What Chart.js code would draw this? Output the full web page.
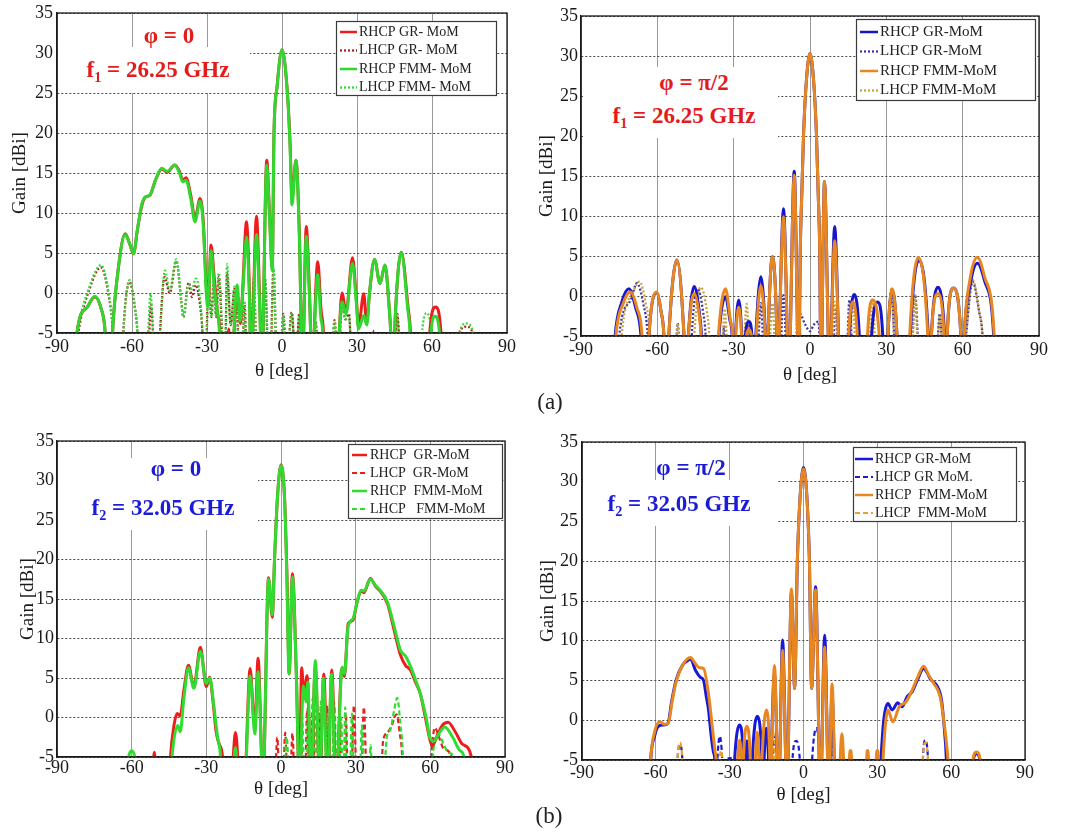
<!DOCTYPE html>
<html>
<head>
<meta charset="utf-8">
<script src="https://cdn.jsdelivr.net/npm/chart.js@4.4.1/dist/chart.umd.min.js"></script>
<style>
  body { margin: 0; background: #fff; width: 1074px; height: 833px; overflow: hidden; position: relative; font-family: "Liberation Serif", serif; }
  canvas { position: absolute; }
  .blank { position: absolute; background: #fff; }
  .note { position: absolute; transform: translate(-50%, -50%); white-space: nowrap; line-height: 1; font-weight: bold; font-size: 23px; }
  .note sub { font-size: 0.62em; }
  .red { color: #e31b1b; }
  .blue { color: #1c1cd8; }
  .tag { position: absolute; transform: translate(-50%, -50%); font-size: 23px; color: #222; }
</style>
</head>
<body>
<canvas id="ca" width="530" height="395" style="left:0;top:0"></canvas>
<canvas id="cb" width="544" height="395" style="left:530px;top:0"></canvas>
<canvas id="cc" width="530" height="395" style="left:0;top:420px"></canvas>
<canvas id="cd" width="544" height="395" style="left:530px;top:420px"></canvas>

<div class="blank" style="left:58px;top:47px;width:192px;height:46px"></div>
<div class="blank" style="left:583px;top:67px;width:195px;height:71px"></div>
<div class="blank" style="left:58px;top:458px;width:200px;height:72px"></div>
<div class="blank" style="left:583px;top:480px;width:194px;height:46px"></div>

<div class="note red" style="left:169px;top:35px">&phi; = 0</div>
<div class="note red" style="left:158px;top:71px">f<sub>1</sub> = 26.25 GHz</div>
<div class="note red" style="left:694px;top:82px">&phi; = &pi;/2</div>
<div class="note red" style="left:684px;top:117px">f<sub>1</sub> = 26.25 GHz</div>
<div class="note blue" style="left:176px;top:468px">&phi; = 0</div>
<div class="note blue" style="left:163px;top:509px">f<sub>2</sub> = 32.05 GHz</div>
<div class="note blue" style="left:691px;top:467px">&phi; = &pi;/2</div>
<div class="note blue" style="left:679px;top:505px">f<sub>2</sub> = 32.05 GHz</div>

<div class="tag" style="left:550px;top:402px">(a)</div>
<div class="tag" style="left:549px;top:816px">(b)</div>

<script>
// tick values shared by all four panels
const thetaTicks = [-90, -60, -30, 0, 30, 60, 90];
const gainTicks = [-5, 0, 5, 10, 15, 20, 25, 30, 35];

// [theta deg, gain dBi]; -9 means the curve has dropped below the plotted range
// (a) phi = 0, f1
const aRhcpGr = [[-90,-9],[-82.6,-9],[-82,-5],[-78,-1.8],[-74.9,-0.5],[-72.5,-1.8],[-70.7,-5],[-70.1,-9],
  [-68.3,-9],[-67.8,-5],[-65.5,3],[-62.7,7.4],[-61,6.2],[-59.4,4.9],[-57.8,8],[-56,11],[-54.6,12],[-52.9,12.2],[-50.5,14.2],[-48.1,15.5],[-45.9,15.1],[-42.9,16],[-41,15.2],[-39.7,14.1],[-38.4,14.4],[-36.5,12.2],[-34.8,9.3],[-32.8,11.8],[-31.5,9],[-30.3,1],[-29.5,-1.3],[-28.4,6],[-27,1.5],[-25.8,-2.5],[-24.8,-5],[-24.4,-9],
  [-22,-9],[-21.3,-4.5],[-20.6,-9],
  [-19.6,-9],[-19.2,-5],[-17.7,-0.5],[-16.6,-3.8],[-15.8,0],[-14.2,8.9],[-13,0],[-12.4,-9],
  [-10.2,9.6],[-9,0],[-8.1,-9],
  [-6.1,16.6],[-5,10],[-3.9,3.2],[-3.2,20],[-2,25.7],[0,30.4],[2,25.7],[3.2,19],[4,12],[5.6,16.6],[6.9,8],[8.2,-9],
  [9.7,8.3],[11,0],[12,-9],
  [14.3,3.9],[15.6,-2],[16.6,-5],[17,-9],
  [22.4,-9],[22.9,-5],[24,0],[25.6,-2.4],[28.2,4.4],[29.8,-1],[30.6,-4.2],[32.7,-0.1],[33.9,-3.8],[35,0],[37,4.2],[39.2,1.2],[41.2,3.5],[42.8,-1.5],[43.5,-5],[43.9,-9],
  [44.6,-9],[45,-5],[47.7,5.1],[50.5,-2],[51.4,-5],[51.8,-9],
  [58.6,-9],[59.1,-5],[61.4,-1.75],[63.6,-5],[64.1,-9],[90,-9]];
const aLhcpGr = [[-90,-9],[-83,-9],[-81.5,-5],[-77,0.5],[-72.4,3.2],[-69.5,0],[-67.6,-5],[-67,-9],
  [-64,-9],[-63.5,-5],[-61,1.4],[-59,-1.5],[-57.8,-5],[-57.2,-9],
  [-53.6,-9],[-53.1,-5],[-52.4,-1.5],[-51.6,-5],[-51.1,-9],
  [-49.4,-9],[-48.8,-5],[-47,2],[-44.9,0],[-42.3,4],[-40.3,-1],[-39.5,-3],[-37.3,1.3],[-36,-0.5],[-34.5,1],[-33,-1],[-31.8,-5],[-31.3,-9],
  [-30.5,-9],[-29.5,1.5],[-28.2,-3],[-27.3,1.5],[-26.3,-3],[-25.3,2],[-24,-5],[-23.6,-9],
  [-22.8,-9],[-22,2.5],[-20.5,-4],[-19,0.5],[-17.6,-5],[-17.2,-9],
  [-16,-9],[-15,-1.5],[-14,-9],
  [-12.4,-9],[-11.3,1.5],[-10,-9],
  [-8,-9],[-6.7,1.5],[-5.4,-9],
  [-4.7,-9],[-3.4,3],[-2,-9],
  [-0.8,-9],[0.5,-2.6],[1.8,-9],[3.9,-2.4],[5.5,-9],[6.9,-2.6],[8.3,-9],
  [12.5,-9],[13.5,-3.6],[14.5,-9],
  [19.8,-9],[21,-3.4],[22.4,-9],[24,-1.3],[25.3,-3.3],[26.8,-2.6],[28,-9],
  [35.5,-9],[36.4,-4.7],[37.3,-9],
  [44.7,-9],[46.1,-2.6],[47.6,-9],
  [70,-9],[71,-5],[73.7,-4.2],[76.3,-5],[77,-9],[90,-9]];
const aRhcpFmm = [[-90,-9],[-82.6,-9],[-82,-5],[-78,-1.8],[-74.9,-0.4],[-72.5,-1.8],[-70.7,-5],[-70.1,-9],
  [-68.3,-9],[-67.8,-5],[-65.5,3],[-62.7,7.3],[-61,6.2],[-59.4,4.9],[-57.8,8],[-56,11.2],[-54.6,12],[-52.9,12.2],[-50.5,14.2],[-48.1,15.6],[-45.9,15.2],[-42.9,16],[-41,15],[-39.7,13.9],[-38.4,14.1],[-36.5,11.8],[-34.8,8.9],[-32.8,11.5],[-31.5,8.5],[-30.3,0],[-29.7,-1.8],[-28.4,5.3],[-27,0.5],[-26,-2],[-25,-5],[-24.6,-9],
  [-19.6,-9],[-19.2,-5],[-17.9,1],[-16.8,-3.5],[-15.8,-0.5],[-14.2,7],[-13,-1],[-12.4,-9],
  [-10.2,7.3],[-9,-1],[-8.1,-9],
  [-6.1,16],[-5,9.5],[-3.9,2.8],[-3.2,20],[-2,25.7],[0,30.4],[2,25.7],[3.2,18.5],[4,11],[5.6,16.6],[6.9,7.5],[8.2,-9],
  [9.7,7.1],[11,-0.5],[12,-9],
  [14.3,2.3],[15.5,-3],[16.3,-5],[16.7,-9],
  [22.4,-9],[22.9,-5],[24,-1.1],[25.6,-2.6],[28.2,3.7],[29.8,-1.5],[30.6,-4.5],[32.7,-2.8],[33.9,-4],[35,0],[37,4.2],[39.2,1.2],[41.2,3.5],[42.8,-1.5],[43.5,-5],[43.9,-9],
  [44.6,-9],[45,-5],[47.7,5.1],[50.3,-2],[51.2,-5],[51.6,-9],
  [59,-9],[59.6,-5],[61.2,-2.9],[63,-5],[63.5,-9],[90,-9]];
const aLhcpFmm = [[-90,-9],[-83.2,-9],[-81.8,-5],[-77,0.8],[-72.4,3.5],[-69.5,0.3],[-67.6,-5],[-67,-9],
  [-64,-9],[-63.5,-5],[-61,1.6],[-59,-1.5],[-57.8,-5],[-57.2,-9],
  [-54,-9],[-53.5,-5],[-52.6,-0.1],[-51.6,-5],[-51.1,-9],
  [-49.4,-9],[-48.8,-5],[-46.8,2.8],[-44.9,0.3],[-42.3,4.2],[-40.3,-1],[-39.5,-3],[-37.3,1],[-36,0.5],[-34.5,1.8],[-33,0],[-31.8,-5],[-31.3,-9],
  [-30.5,-9],[-29.5,1],[-28.2,-3],[-27.3,2],[-26.3,-3],[-25.3,2.5],[-24,-5],[-23.6,-9],
  [-22.8,-9],[-22,3.6],[-20.5,-4],[-19,0.8],[-17.6,-5],[-17.2,-9],
  [-16,-9],[-15,-1],[-14,-9],
  [-12.4,-9],[-11.3,1.8],[-10,-9],
  [-8,-9],[-6.7,1.8],[-5.4,-9],
  [-4.7,-9],[-3.4,3.2],[-2,-9],
  [-0.8,-9],[0.6,-2.8],[1.8,-9],[3.9,-2.6],[5.5,-9],[7,-2.8],[8.3,-9],
  [12.6,-9],[13.5,-3.8],[14.5,-9],
  [19.8,-9],[21,-3.6],[22.4,-9],[24,-1.6],[25.3,-3.3],[26.8,-3],[28,-9],
  [44.7,-9],[46.1,-2.8],[47.6,-9],
  [55.3,-9],[56,-5],[57.8,-2.5],[59.8,-5],[60.5,-9],
  [70,-9],[71,-5],[73.7,-3.8],[76.5,-5],[77.2,-9],[90,-9]];

// (a) phi = pi/2, f1
const bRhcpGr = [[-90,-9],[-77.3,-9],[-76.6,-5],[-74,-0.8],[-71.2,0.9],[-68.5,-1.5],[-66.4,-5],[-65.8,-9],
  [-63.8,-9],[-63.3,-5],[-60.3,0.4],[-58.5,-2],[-57.4,-5],[-57,-9],
  [-56,-9],[-55.5,-5],[-52.3,4.5],[-49.5,-5],[-49,-9],
  [-48.3,-9],[-47.8,-5],[-45.5,1.2],[-43.5,-2],[-42.6,-5],[-42,-9],
  [-36.4,-9],[-35.8,-5],[-33.2,-0.1],[-31.5,-3],[-30.6,-5],[-30.2,-9],
  [-29.7,-9],[-29.3,-5],[-28,-0.5],[-26.8,-5],[-26.4,-9],
  [-25.8,-9],[-25.4,-5],[-24,-3.2],[-22.8,-5],[-22.4,-9],
  [-21.8,-9],[-21.3,-5],[-19.3,2.4],[-17.5,-5],[-17.1,-9],
  [-16.8,-9],[-16.5,-5],[-14.8,4.9],[-13,-5],[-12.8,-9],
  [-10.4,10.9],[-8.3,-9],
  [-6.2,15.6],[-4.4,-9],
  [-3.8,6],[-3.2,13],[-2.5,20.5],[-1.4,27],[0,30.3],[1.4,27],[2.5,20.5],[3.2,13],[3.8,6],[4.3,-9],
  [5.7,14.3],[7.7,-9],
  [9.7,8.7],[11.9,-9],
  [15,-9],[15.4,-5],[17.4,0.2],[19.4,-5],[19.8,-9],
  [23.7,-9],[24.2,-5],[26.5,-0.75],[28.6,-5],[29,-9],
  [30.2,-9],[30.6,-5],[32.3,0.7],[34.2,-5],[34.6,-9],
  [39,-9],[39.4,-5],[42.8,4.5],[46.5,-5],[46.9,-9],
  [47.3,-9],[47.7,-5],[50.3,1.1],[52.9,-5],[53.3,-9],
  [53.6,-9],[53.9,-5],[56.4,1],[59.3,-5],[59.7,-9],
  [60.2,-9],[60.6,-5],[63,1.5],[65.8,4.1],[68.5,2],[72.2,-5],[72.6,-9],[90,-9]];
const bLhcpGr = [[-90,-9],[-75.6,-9],[-75,-5],[-70.5,-0.5],[-68,1.6],[-65.5,-1],[-63.8,-5],[-63.3,-9],
  [-52.8,-9],[-52.4,-5],[-52,-3.4],[-51.6,-5],[-51.2,-9],
  [-47,-9],[-46.5,-5],[-44.2,0.9],[-42,-2],[-41,-5],[-40.5,-9],
  [-34.6,-9],[-33.8,-3.8],[-33,-9],
  [-25,-9],[-24,-3.5],[-23,-9],
  [-21,-9],[-19.3,-0.9],[-17.8,-9],
  [-12,-9],[-10.4,0.1],[-8.9,-9],
  [-6,-9],[-4,-2.2],[-2,-3.5],[0,-4.4],[1.5,-3.6],[3.3,-3.2],[4.4,-9],
  [8.5,-9],[10,-1.5],[11.5,-9],
  [14.2,-9],[15.5,-0.5],[17,-9],
  [29.6,-9],[31.9,0.7],[34,-9],
  [39.5,-9],[41.3,0.2],[43.2,-9],
  [49.5,-9],[51,-2.2],[52.5,-9],
  [60.2,-9],[61.3,-5],[63.9,1.8],[66.5,-2],[67.8,-5],[68.3,-9],[90,-9]];
const bRhcpFmm = [[-90,-9],[-77,-9],[-76.3,-5],[-73.5,-1],[-70.6,0.5],[-68,-1.5],[-66,-5],[-65.5,-9],
  [-63.8,-9],[-63.3,-5],[-60.3,0.5],[-58.5,-2],[-57.4,-5],[-57,-9],
  [-56,-9],[-55.5,-5],[-52.3,4.5],[-49.5,-5],[-49,-9],
  [-48.3,-9],[-47.8,-5],[-45.5,0.3],[-43.5,-2.5],[-42.8,-5],[-42.3,-9],
  [-36.6,-9],[-36,-5],[-33.2,0.9],[-31.3,-3],[-30.4,-5],[-30,-9],
  [-29.7,-9],[-29.2,-5],[-28,-1.4],[-26.9,-5],[-26.5,-9],
  [-25.4,-9],[-25,-5],[-24,-4.2],[-23,-5],[-22.6,-9],
  [-21.6,-9],[-21.1,-5],[-19.3,1.3],[-17.6,-5],[-17.2,-9],
  [-16.8,-9],[-16.5,-5],[-14.8,4.9],[-13,-5],[-12.8,-9],
  [-10.4,9.9],[-8.3,-9],
  [-6.2,15.1],[-4.4,-9],
  [-3.8,6],[-3.2,13],[-2.5,20.5],[-1.4,27],[0,30.3],[1.4,27],[2.5,20.5],[3.2,13],[3.8,6],[4.3,-9],
  [5.7,14.3],[7.7,-9],
  [9.7,6.9],[11.9,-9],
  [14.8,-9],[15.2,-5],[16.8,-0.75],[18.6,-5],[19,-9],
  [22.2,-9],[22.6,-5],[24.5,-0.5],[27.2,-5],[27.6,-9],
  [30.2,-9],[30.6,-5],[32.3,0.9],[34.2,-5],[34.6,-9],
  [38.8,-9],[39.2,-5],[42.6,4.8],[46.3,-5],[46.7,-9],
  [47.3,-9],[47.7,-5],[50.3,0.3],[52.7,-5],[53.1,-9],
  [53.6,-9],[53.9,-5],[56.4,1],[59.3,-5],[59.7,-9],
  [60.2,-9],[60.6,-5],[63,2.3],[65.8,4.8],[68.5,2.5],[72.4,-5],[72.8,-9],[90,-9]];
const bLhcpFmm = [[-90,-9],[-74.6,-9],[-74,-5],[-69.5,0.5],[-67,1.8],[-64.5,-1],[-62.8,-5],[-62.3,-9],
  [-52.8,-9],[-52.4,-5],[-52,-3.4],[-51.6,-5],[-51.2,-9],
  [-46,-9],[-45.5,-5],[-42.9,1.1],[-40.5,-2],[-39.6,-5],[-39.2,-9],
  [-35,-9],[-33.5,-1.6],[-32,-9],
  [-26.5,-9],[-24.9,-1],[-23.3,-9],
  [-16.5,-9],[-14.8,-0.9],[-13.2,-9],
  [-6.4,-9],[-4.6,-0.9],[-2.8,-9],
  [8.1,-9],[9.7,-0.75],[11.3,-9],
  [15.2,-9],[16.8,-0.8],[18.4,-9],
  [22.8,-9],[24.5,-0.5],[26.3,-9],
  [30,-9],[31.9,0.9],[33.8,-9],
  [39.8,-9],[41.3,0],[42.8,-9],
  [49.5,-9],[51,-2.4],[52.5,-9],
  [60.2,-9],[61.3,-5],[63.9,2],[66.5,-2],[67.8,-5],[68.3,-9],[90,-9]];

// (b) phi = 0, f2
const cRhcpGr = [[-90,-9],[-52,-9],[-50.9,-4.4],[-49.8,-9],
  [-45,-9],[-44.4,-5],[-43,-1],[-41.7,0.5],[-40.5,0.2],[-39,3.5],[-37.2,6.6],[-35,3.9],[-32.4,8.9],[-30,3.9],[-28.7,5.1],[-27.3,2],[-26.1,-1.7],[-24.8,-3.4],[-23.5,-5],[-23,-9],
  [-20,-9],[-19.2,-5],[-18.3,-1.9],[-17.4,-5],[-16.9,-9],
  [-14.4,-9],[-14,-5],[-12.4,6.2],[-11,0],[-10.5,-1],[-9.2,7.5],[-7.8,-5],[-7.3,-9],
  [-5,17.7],[-3.5,12.7],[-2.6,20],[-1.4,28],[0,32],[1.4,28],[2.4,18],[3.3,5.5],[4.6,18.2],[6.2,5],[7.4,-9],
  [8.3,6.3],[9.2,3],[10.5,5.3],[11.6,-5],[12,-9],
  [13.8,6.4],[15.6,-9],
  [17.2,5.5],[18.8,-9],
  [20.4,6],[22.2,-9],
  [24.4,6.2],[25.5,5.2],[27,11.9],[28.9,12.3],[30.5,14.5],[32.2,16],[33.3,15.8],[35.9,17.6],[38,16.6],[40.1,15.9],[42.8,14.4],[45.5,11],[48,7.9],[50,6.6],[52,6],[54,4.5],[56,3],[58,0],[59.9,-2.9],[60.8,-3.6],[62.5,-2.5],[64.8,-1],[67.1,-0.6],[70,-1.8],[73,-3.4],[76.5,-5],[77.2,-9],[90,-9]];
const cLhcpGr = [[-90,-9],[-2.6,-9],[-1.5,-2.5],[-0.5,-9],[0.7,-9],[1.7,-1.9],[2.7,-9],[3.6,-9],[4.6,-2],[5.6,-9],
  [7.2,-9],[8,-1.5],[8.9,-9],[9.6,-9],[10.5,1],[11.4,-9],[12,-9],[12.8,2.5],[13.6,-9],[14.6,-9],[15.5,0.5],[16.4,-9],[17.6,-9],[18.5,1.5],[19.4,-9],[20.5,-9],[21.3,2],[22.1,-9],[22.6,-9],[23.5,1],[24.3,-9],
  [25.1,-9],[26,0.5],[27,-9],[28.1,-9],[29.3,1.5],[30.5,-9],[32.1,-9],[33.3,1.3],[34.6,-9],
  [40,-9],[41,-3],[42.8,-1.9],[44.5,-1],[46.4,0.4],[47.7,-2],[48.7,-5],[49.1,-9],
  [60,-9],[60.5,-5],[61.8,-1.3],[63.5,-2.5],[65.5,-4],[68.5,-5],[69,-9],[90,-9]];
const cRhcpFmm = [[-90,-9],[-61.8,-9],[-61.2,-5],[-60,-4.2],[-58.8,-5],[-58.2,-9],
  [-44.6,-9],[-43.8,-5],[-41.5,-1],[-40.5,-1.8],[-39,2.5],[-37.2,6.3],[-35,3.7],[-32.4,8.4],[-30,4.3],[-28.6,5],[-27,1.5],[-25.5,-2.5],[-24.3,-5],[-23.8,-9],
  [-19.3,-9],[-18.8,-5],[-18.3,-3.8],[-17.8,-5],[-17.3,-9],
  [-14.3,-9],[-13.9,-5],[-12.4,5.3],[-10.5,-2.1],[-9.2,5.8],[-7.8,-5],[-7.3,-9],
  [-5,17.5],[-3.5,13],[-2.6,20],[-1.4,28],[0,31.9],[1.4,28],[2.4,17],[3.2,5.5],[4.6,17.8],[6.2,5],[7.4,-9],
  [9,4],[10,2],[10.8,4.5],[11.6,-5],[12,-9],
  [13.8,7.2],[15.6,-9],
  [17,5],[18.7,-9],
  [20.3,5.5],[22.1,-9],
  [24.6,6.4],[25.5,5.5],[27,11.6],[28.9,12.5],[30.5,14.5],[32.2,16.1],[33.3,16],[35.9,17.5],[38,16.7],[40.1,16],[42.8,14.6],[45.5,11.5],[48,8.5],[50,7.8],[52,6.5],[54,4.8],[56,3],[58.3,0],[59.8,-2.5],[61.4,-3],[63.5,-2],[65.8,-1.2],[69,-2.5],[72,-4.2],[73.5,-5],[74,-9],[90,-9]];
const cLhcpFmm = [[-90,-9],[1,-9],[2.3,-2.5],[3.5,-9],
  [7.5,-9],[8.5,0],[9.5,-9],[10.1,-9],[11,2.5],[11.9,-9],[12.6,-9],[13.5,1],[14.4,-9],[15.1,-9],[16,2],[16.9,-9],[17.7,-9],[18.8,0],[19.8,-9],[20.4,-9],[21.5,1.5],[22.5,-9],[23.3,-9],[24.2,0],[24.9,-9],[25.2,-9],[25.8,1.3],[26.5,-9],[27.5,-9],[28.5,0.5],[29.5,-9],[31.5,-9],[32.5,-1],[33.5,-9],
  [35.2,-9],[36,-3.5],[36.8,-9],
  [41,-9],[42.5,-2.5],[44,-1.5],[45.5,1],[46.7,2.5],[48,-1],[49,-5],[49.3,-9],
  [60.5,-9],[61,-5],[63.2,-2.1],[65.5,-3.5],[67.5,-4.5],[69.5,-5],[70,-9],[90,-9]];

// (b) phi = pi/2, f2
const dRhcpGr = [[-90,-9],[-62.6,-9],[-62.1,-5],[-60.5,-2],[-59.1,-0.8],[-57,-0.6],[-55.1,-0.4],[-53.5,2.5],[-51.8,5],[-49.2,6.9],[-47.5,7.4],[-45.9,7.7],[-43.9,6.3],[-41.9,5.4],[-40.6,5],[-39.5,3],[-38.6,1.3],[-37.5,-2],[-36.6,-4],[-36,-5],[-35.6,-9],
  [-28.5,-9],[-28,-5],[-26,-0.6],[-24.4,-5],[-24.1,-9],
  [-23.9,-9],[-23.6,-5],[-23,-2.6],[-22.3,-5],[-22,-9],
  [-21.2,-9],[-20.8,-5],[-18.8,0.5],[-16.9,-5],[-16.6,-9],
  [-16.3,-9],[-16,-5],[-15.1,-1],[-14.2,-5],[-13.9,-9],
  [-11.8,5.9],[-10.1,-9],
  [-8.5,10.1],[-6.7,-9],
  [-4.9,16.1],[-3.6,4],[-2.5,20],[-1.4,28],[0,31.8],[1.4,28],[2.4,20],[3.3,4],[4.9,16.8],[6.9,-9],
  [8.6,10.7],[10.3,-9],
  [11.6,3.3],[13,-9],
  [31,-9],[31.5,-5],[32.6,0],[34.3,2.1],[36,1.3],[38.3,2.2],[40,1.7],[42.2,3],[44.2,3.6],[46.2,5],[48.8,6.5],[50.2,6],[51.5,5.2],[54.1,4.4],[56.1,2.5],[57.2,-1],[58,-4.6],[58.4,-9],
  [68.5,-9],[69,-5],[70.3,-4.2],[71.7,-5],[72.1,-9],[90,-9]];
const dLhcpGr = [[-90,-9],[-51.7,-9],[-51.2,-5],[-50.2,-3],[-49.2,-5],[-48.7,-9],
  [-35.5,-9],[-35,-5],[-34,-2],[-33,-5],[-32.5,-9],
  [-31,-9],[-30.5,-5],[-30,-4.5],[-29.5,-5],[-29,-9],
  [-13,-9],[-12.5,-5],[-11.5,-2],[-10.5,-5],[-10,-9],
  [-5,-9],[-4.5,-5],[-3,-2.6],[-1.5,-5],[-1,-9],
  [3,-9],[3.5,-5],[5.2,-1],[6.8,-5],[7.3,-9],
  [9.5,-9],[10,-5],[10.8,-2.3],[11.8,-5],[12.2,-9],
  [48.2,-9],[48.5,-5],[49.5,-2.5],[50.6,-5],[51,-9],[90,-9]];
const dRhcpFmm = [[-90,-9],[-62.6,-9],[-62.1,-5],[-60.5,-1.5],[-58.4,-0.2],[-56.5,-0.5],[-55,-0.4],[-53.3,2.5],[-51.8,4.8],[-49.2,6.9],[-45.9,7.9],[-43.9,7.1],[-42.3,6.6],[-40.6,6.5],[-38.6,3.3],[-37,-1],[-36,-3.8],[-35.5,-5],[-35.1,-9],
  [-27.2,-9],[-26.7,-5],[-26,-2.5],[-25.3,-5],[-25,-9],
  [-24.7,-9],[-24.4,-5],[-23,-0.75],[-21.6,-5],[-21.3,-9],
  [-19.8,-9],[-19.5,-5],[-18.8,-1.5],[-18.1,-5],[-17.8,-9],
  [-17.3,-9],[-16.9,-5],[-15.1,1.3],[-13.7,-5],[-13.5,-9],
  [-11.8,6.9],[-10.1,-9],
  [-8.5,8.8],[-6.7,-9],
  [-4.9,16.5],[-3.6,4],[-2.5,20],[-1.4,28],[0,31.6],[1.4,28],[2.4,20],[3.3,4],[4.9,16.4],[6.9,-9],
  [8.6,9.2],[10.3,-9],
  [11.6,4.6],[13.1,-9],
  [14.5,-9],[14.9,-5],[15.6,-1.7],[16.3,-5],[16.7,-9],
  [18.4,-9],[18.7,-4.7],[19.1,-3.8],[19.5,-4.7],[19.8,-9],
  [25.4,-9],[25.7,-4.7],[26,-3.8],[26.4,-4.7],[26.7,-9],
  [29.3,-9],[29.6,-4.7],[30,-3.8],[30.4,-4.7],[30.7,-9],
  [31.8,-9],[32.3,-5],[34.3,1.3],[36.3,-0.2],[38.9,1.7],[41.6,2.3],[44.2,3.8],[46.5,5.5],[48.8,6.8],[51,5.6],[53,4.6],[55.5,3],[57,0],[58.3,-3.5],[58.7,-5],[59.1,-9],
  [68.3,-9],[68.8,-5],[70.3,-4],[71.8,-5],[72.2,-9],[90,-9]];
const dLhcpFmm = [[-90,-9],[-51.7,-9],[-51.2,-5],[-50.2,-2.8],[-49.2,-5],[-48.7,-9],
  [-34.5,-9],[-34,-5],[-33.5,-3.8],[-33,-5],[-32.5,-9],
  [-12.5,-9],[-12,-5],[-11.3,-1.5],[-10.5,-5],[-10,-9],
  [10,-9],[10.5,-5],[11.2,-2.5],[12,-5],[12.5,-9],
  [48.2,-9],[48.5,-5],[49.5,-2.8],[50.6,-5],[51,-9],[90,-9]];

document.addEventListener('DOMContentLoaded', function() {
    Chart.defaults.font.family = '"Liberation Serif", serif';
    Chart.defaults.color = '#1a1a1a';

    // frame around the plot area, like the MATLAB axes box
    const framePlugin = {
        id: 'frame',
        afterDatasetsDraw(chart) {
            const { ctx, chartArea: a } = chart;
            ctx.save();
            ctx.strokeStyle = '#1a1a1a';
            ctx.lineWidth = 1.3;
            ctx.strokeRect(a.left, a.top, a.right - a.left, a.bottom - a.top);
            ctx.restore();
        }
    };

    // boxed legend in the top right corner
    const boxLegend = {
        id: 'boxLegend',
        afterDraw(chart, args, o) {
            const ctx = chart.ctx;
            const [x, y, w, h] = o.box;
            ctx.save();
            ctx.fillStyle = '#fff';
            ctx.fillRect(x, y, w, h);
            ctx.strokeStyle = '#3a3a3a';
            ctx.lineWidth = 1.2;
            ctx.strokeRect(x + 0.5, y + 0.5, w, h);
            ctx.font = o.font;
            ctx.textBaseline = 'middle';
            chart.data.datasets.forEach((ds, i) => {
                const yy = y + o.rowY + i * o.rowStep;
                ctx.strokeStyle = ds.borderColor;
                ctx.lineWidth = Math.min(ds.borderWidth, 2.5);
                ctx.setLineDash(ds.borderDash || []);
                ctx.beginPath();
                ctx.moveTo(x + o.lineX0, yy);
                ctx.lineTo(x + o.lineX1, yy);
                ctx.stroke();
                ctx.setLineDash([]);
                ctx.fillStyle = '#222';
                ctx.fillText(ds.label, x + o.textX, yy);
            });
            ctx.restore();
        }
    };

    function setupChart(id, series, lay, legend) {
        const ctx = document.getElementById(id).getContext('2d');
        return new Chart(ctx, {
            type: 'line',
            data: {
                datasets: series.map(s => ({
                    label: s.label,
                    data: s.data.map(p => ({ x: p[0], y: p[1] })),
                    borderColor: s.color,
                    borderWidth: s.width,
                    borderDash: s.dash,
                    order: s.order,
                    pointRadius: 0,
                    fill: false,
                    cubicInterpolationMode: 'monotone'
                }))
            },
            options: {
                responsive: false,
                animation: false,
                devicePixelRatio: 1,
                layout: { padding: { left: 0, top: lay.top, right: lay.right, bottom: 0 } },
                scales: {
                    x: {
                        type: 'linear', min: -90, max: 90,
                        afterBuildTicks: s => { s.ticks = thetaTicks.map(v => ({ value: v })); },
                        afterFit: s => { s.height = lay.xH; s.paddingLeft = 0; s.paddingRight = 0; },
                        grid: { color: '#9a9a9a', lineWidth: 1, drawTicks: false },
                        border: { color: '#1a1a1a', width: 1.3 },
                        ticks: { padding: lay.xTickPad, font: { size: 18 }, color: '#1a1a1a', maxRotation: 0, autoSkip: false },
                        title: { display: true, text: 'θ [deg]', font: { size: 19 }, color: '#1a1a1a', padding: { top: 0, bottom: lay.xTitlePad } }
                    },
                    y: {
                        type: 'linear', min: -5, max: 35,
                        afterBuildTicks: s => { s.ticks = gainTicks.map(v => ({ value: v })); },
                        afterFit: s => { s.width = lay.yW; s.paddingTop = 0; s.paddingBottom = 0; },
                        grid: { color: '#4a4a4a', lineWidth: 1, drawTicks: false },
                        border: { color: '#1a1a1a', width: 1.3, dash: [2, 2] },
                        ticks: { padding: lay.yTickPad, font: { size: 18 }, color: '#1a1a1a' },
                        title: { display: true, text: 'Gain [dBi]', font: { size: 19 }, color: '#1a1a1a', padding: { top: lay.yTitlePad, bottom: 0 } }
                    }
                },
                plugins: {
                    legend: { display: false },
                    tooltip: { enabled: false },
                    boxLegend: legend
                }
            },
            plugins: [framePlugin, boxLegend]
        });
    }

    setupChart('ca', [
        { label: 'RHCP GR- MoM', data: aRhcpGr, color: '#ee1c1c', dash: [], width: 3, order: 2 },
        { label: 'LHCP GR- MoM', data: aLhcpGr, color: '#a82222', dash: [2, 2], width: 2.3, order: 4 },
        { label: 'RHCP FMM- MoM', data: aRhcpFmm, color: '#2fd82f', dash: [], width: 3, order: 1 },
        { label: 'LHCP FMM- MoM', data: aLhcpFmm, color: '#3ad63a', dash: [2, 2], width: 2.3, order: 3 }
    ], { top: 13, right: 23, yW: 57, xH: 62, xTickPad: 3, yTickPad: 4, xTitlePad: 13, yTitlePad: 9 },
       { box: [336, 21, 160, 74], rowY: 11, rowStep: 18.5, lineX0: 4, lineX1: 21, textX: 23, font: '14px "Liberation Serif"' });

    setupChart('cb', [
        { label: 'RHCP GR-MoM', data: bRhcpGr, color: '#1616cf', dash: [], width: 3, order: 2 },
        { label: 'LHCP GR-MoM', data: bLhcpGr, color: '#4236a6', dash: [2, 2], width: 2.3, order: 4 },
        { label: 'RHCP FMM-MoM', data: bRhcpFmm, color: '#e8861f', dash: [], width: 3, order: 1 },
        { label: 'LHCP FMM-MoM', data: bLhcpFmm, color: '#c9a23c', dash: [2, 2], width: 2.3, order: 3 }
    ], { top: 16, right: 35, yW: 51, xH: 59, xTickPad: 3, yTickPad: 3, xTitlePad: 9, yTitlePad: 6 },
       { box: [326, 19, 179, 81], rowY: 13, rowStep: 19.5, lineX0: 4, lineX1: 22, textX: 24, font: '15px "Liberation Serif"' });

    setupChart('cc', [
        { label: 'RHCP  GR-MoM', data: cRhcpGr, color: '#ee1c1c', dash: [], width: 3, order: 2 },
        { label: 'LHCP  GR-MoM', data: cLhcpGr, color: '#e42020', dash: [5, 3], width: 2.2, order: 4 },
        { label: 'RHCP  FMM-MoM', data: cRhcpFmm, color: '#30dc30', dash: [], width: 3, order: 1 },
        { label: 'LHCP   FMM-MoM', data: cLhcpFmm, color: '#30dc30', dash: [5, 3], width: 2.2, order: 3 }
    ], { top: 21, right: 25, yW: 57, xH: 58, xTickPad: 0, yTickPad: 3, xTitlePad: 15, yTitlePad: 17 },
       { box: [348, 24, 154, 74], rowY: 11, rowStep: 18, lineX0: 4, lineX1: 19, textX: 22, font: '14px "Liberation Serif"' });

    setupChart('cd', [
        { label: 'RHCP GR-MoM', data: dRhcpGr, color: '#1818d6', dash: [], width: 3, order: 2 },
        { label: 'LHCP GR MoM.', data: dLhcpGr, color: '#1c1cc8', dash: [5, 3], width: 2.2, order: 4 },
        { label: 'RHCP  FMM-MoM', data: dRhcpFmm, color: '#e8861f', dash: [], width: 3, order: 1 },
        { label: 'LHCP  FMM-MoM', data: dLhcpFmm, color: '#e8a232', dash: [5, 3], width: 2.2, order: 3 }
    ], { top: 22, right: 49, yW: 52, xH: 55, xTickPad: 2, yTickPad: 4, xTitlePad: 9, yTitlePad: 7 },
       { box: [323, 27, 163, 74], rowY: 12, rowStep: 18, lineX0: 2, lineX1: 20, textX: 22, font: '14px "Liberation Serif"' });
});
</script>
</body>
</html>
